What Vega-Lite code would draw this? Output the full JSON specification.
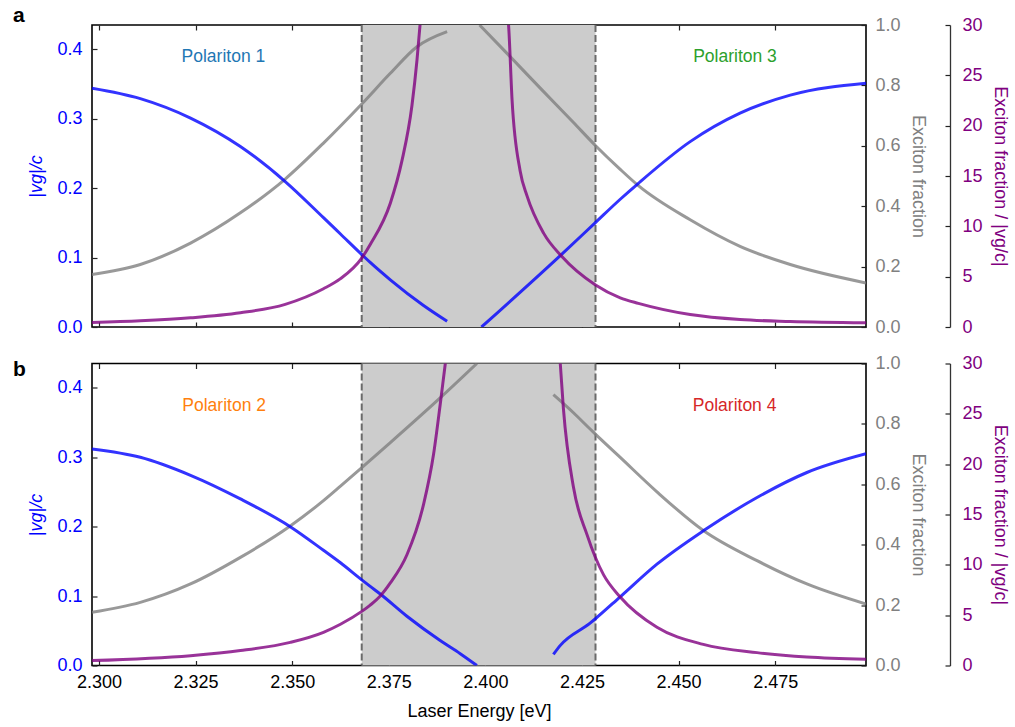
{
  "$schema": "https://vega.github.io/schema/vega-lite/v6.json",
  "padding": {"left": 12, "top": 4, "right": 5, "bottom": 5},
  "bounds": "flush",
  "spacing": 36.5,
  "config": {
    "font": "Liberation Sans",
    "view": {"stroke": "black", "strokeWidth": 1.6},
    "axis": {"labelFont": "Liberation Sans", "titleFont": "Liberation Sans", "labelFontSize": 18, "titleFontSize": 18, "titleFontWeight": "normal", "grid": false, "domain": false, "tickColor": "#222222", "tickWidth": 1.2, "labelFlush": false, "labelOverlap": false, "labelBound": false},
    "title": {"font": "Liberation Sans"}
  },
  "datasets": {
    "curves": [
      {"p":"a","q":"v","b":"L","E":2.2982,"y":0.344},{"p":"a","q":"v","b":"L","E":2.3107,"y":0.329},{"p":"a","q":"v","b":"L","E":2.3237,"y":0.301},{"p":"a","q":"v","b":"L","E":2.3366,"y":0.260},{"p":"a","q":"v","b":"L","E":2.3482,"y":0.2095},{"p":"a","q":"v","b":"L","E":2.3581,"y":0.1575},{"p":"a","q":"v","b":"L","E":2.3625,"y":0.134},{"p":"a","q":"v","b":"L","E":2.3681,"y":0.104},{"p":"a","q":"v","b":"L","E":2.3702,"y":0.093},{"p":"a","q":"v","b":"L","E":2.3754,"y":0.068},{"p":"a","q":"v","b":"L","E":2.3840,"y":0.031},{"p":"a","q":"v","b":"L","E":2.3901,"y":0.0083},
      {"p":"a","q":"v","b":"R","E":2.3990,"y":0.0},{"p":"a","q":"v","b":"R","E":2.4198,"y":0.105},{"p":"a","q":"v","b":"R","E":2.4284,"y":0.150},{"p":"a","q":"v","b":"R","E":2.4349,"y":0.184},{"p":"a","q":"v","b":"R","E":2.4396,"y":0.207},{"p":"a","q":"v","b":"R","E":2.4530,"y":0.267},{"p":"a","q":"v","b":"R","E":2.4659,"y":0.308},{"p":"a","q":"v","b":"R","E":2.4789,"y":0.334},{"p":"a","q":"v","b":"R","E":2.4985,"y":0.351},
      {"p":"a","q":"f","b":"L","E":2.2982,"y":0.174},{"p":"a","q":"f","b":"L","E":2.3107,"y":0.207},{"p":"a","q":"f","b":"L","E":2.3237,"y":0.278},{"p":"a","q":"f","b":"L","E":2.3366,"y":0.378},{"p":"a","q":"f","b":"L","E":2.3482,"y":0.49},{"p":"a","q":"f","b":"L","E":2.3581,"y":0.609},{"p":"a","q":"f","b":"L","E":2.3682,"y":0.741},{"p":"a","q":"f","b":"L","E":2.3754,"y":0.840},{"p":"a","q":"f","b":"L","E":2.3823,"y":0.928},{"p":"a","q":"f","b":"L","E":2.3901,"y":0.978},
      {"p":"a","q":"f","b":"R","E":2.3985,"y":1.0},{"p":"a","q":"f","b":"R","E":2.4056,"y":0.906},{"p":"a","q":"f","b":"R","E":2.4142,"y":0.791},{"p":"a","q":"f","b":"R","E":2.4228,"y":0.677},{"p":"a","q":"f","b":"R","E":2.4284,"y":0.602},{"p":"a","q":"f","b":"R","E":2.4349,"y":0.522},{"p":"a","q":"f","b":"R","E":2.4396,"y":0.468},{"p":"a","q":"f","b":"R","E":2.4530,"y":0.355},{"p":"a","q":"f","b":"R","E":2.4659,"y":0.267},{"p":"a","q":"f","b":"R","E":2.4789,"y":0.207},{"p":"a","q":"f","b":"R","E":2.4985,"y":0.146},
      {"p":"a","q":"r","b":"L","E":2.2982,"y":0.45},{"p":"a","q":"r","b":"L","E":2.3107,"y":0.62},{"p":"a","q":"r","b":"L","E":2.3237,"y":0.91},{"p":"a","q":"r","b":"L","E":2.3366,"y":1.41},{"p":"a","q":"r","b":"L","E":2.3482,"y":2.25},{"p":"a","q":"r","b":"L","E":2.3581,"y":3.8},{"p":"a","q":"r","b":"L","E":2.3625,"y":4.8},{"p":"a","q":"r","b":"L","E":2.3681,"y":6.9},{"p":"a","q":"r","b":"L","E":2.3702,"y":8.2},{"p":"a","q":"r","b":"L","E":2.3754,"y":12.3},{"p":"a","q":"r","b":"L","E":2.3784,"y":16.5},{"p":"a","q":"r","b":"L","E":2.3810,"y":22.0},{"p":"a","q":"r","b":"L","E":2.3823,"y":26.5},{"p":"a","q":"r","b":"L","E":2.3832,"y":30.5},
      {"p":"a","q":"r","b":"R","E":2.4059,"y":30.5},{"p":"a","q":"r","b":"R","E":2.4060,"y":30.0},{"p":"a","q":"r","b":"R","E":2.4069,"y":22.6},{"p":"a","q":"r","b":"R","E":2.4090,"y":15.5},{"p":"a","q":"r","b":"R","E":2.4108,"y":13.0},{"p":"a","q":"r","b":"R","E":2.4151,"y":9.3},{"p":"a","q":"r","b":"R","E":2.4198,"y":7.0},{"p":"a","q":"r","b":"R","E":2.4284,"y":4.2},{"p":"a","q":"r","b":"R","E":2.4349,"y":2.9},{"p":"a","q":"r","b":"R","E":2.4396,"y":2.35},{"p":"a","q":"r","b":"R","E":2.4530,"y":1.24},{"p":"a","q":"r","b":"R","E":2.4659,"y":0.74},{"p":"a","q":"r","b":"R","E":2.4789,"y":0.55},{"p":"a","q":"r","b":"R","E":2.4985,"y":0.42},
      {"p":"b","q":"v","b":"L","E":2.2982,"y":0.312},{"p":"b","q":"v","b":"L","E":2.3107,"y":0.300},{"p":"b","q":"v","b":"L","E":2.3237,"y":0.274},{"p":"b","q":"v","b":"L","E":2.3366,"y":0.240},{"p":"b","q":"v","b":"L","E":2.3495,"y":0.200},{"p":"b","q":"v","b":"L","E":2.3581,"y":0.166},{"p":"b","q":"v","b":"L","E":2.3625,"y":0.148},{"p":"b","q":"v","b":"L","E":2.3681,"y":0.123},{"p":"b","q":"v","b":"L","E":2.3702,"y":0.114},{"p":"b","q":"v","b":"L","E":2.3728,"y":0.103},{"p":"b","q":"v","b":"L","E":2.3797,"y":0.071},{"p":"b","q":"v","b":"L","E":2.3883,"y":0.036},{"p":"b","q":"v","b":"L","E":2.3935,"y":0.017},{"p":"b","q":"v","b":"L","E":2.3978,"y":0.0},
      {"p":"b","q":"v","b":"R","E":2.4176,"y":0.016},{"p":"b","q":"v","b":"R","E":2.4194,"y":0.029},{"p":"b","q":"v","b":"R","E":2.4271,"y":0.061},{"p":"b","q":"v","b":"R","E":2.4284,"y":0.067},{"p":"b","q":"v","b":"R","E":2.4349,"y":0.099},{"p":"b","q":"v","b":"R","E":2.4444,"y":0.146},{"p":"b","q":"v","b":"R","E":2.4564,"y":0.194},{"p":"b","q":"v","b":"R","E":2.4703,"y":0.242},{"p":"b","q":"v","b":"R","E":2.4832,"y":0.278},{"p":"b","q":"v","b":"R","E":2.4985,"y":0.305},
      {"p":"b","q":"f","b":"L","E":2.2982,"y":0.176},{"p":"b","q":"f","b":"L","E":2.3107,"y":0.209},{"p":"b","q":"f","b":"L","E":2.3237,"y":0.270},{"p":"b","q":"f","b":"L","E":2.3366,"y":0.358},{"p":"b","q":"f","b":"L","E":2.3495,"y":0.462},{"p":"b","q":"f","b":"L","E":2.3581,"y":0.546},{"p":"b","q":"f","b":"L","E":2.3625,"y":0.594},{"p":"b","q":"f","b":"L","E":2.3681,"y":0.656},{"p":"b","q":"f","b":"L","E":2.3754,"y":0.738},{"p":"b","q":"f","b":"L","E":2.3883,"y":0.886},{"p":"b","q":"f","b":"L","E":2.3978,"y":1.0},
      {"p":"b","q":"f","b":"R","E":2.4176,"y":0.897},{"p":"b","q":"f","b":"R","E":2.4228,"y":0.837},{"p":"b","q":"f","b":"R","E":2.4271,"y":0.783},{"p":"b","q":"f","b":"R","E":2.4284,"y":0.767},{"p":"b","q":"f","b":"R","E":2.4349,"y":0.689},{"p":"b","q":"f","b":"R","E":2.4444,"y":0.575},{"p":"b","q":"f","b":"R","E":2.4564,"y":0.447},{"p":"b","q":"f","b":"R","E":2.4703,"y":0.347},{"p":"b","q":"f","b":"R","E":2.4832,"y":0.270},{"p":"b","q":"f","b":"R","E":2.4985,"y":0.2035},
      {"p":"b","q":"r","b":"L","E":2.2982,"y":0.49},{"p":"b","q":"r","b":"L","E":2.3237,"y":0.98},{"p":"b","q":"r","b":"L","E":2.3366,"y":1.48},{"p":"b","q":"r","b":"L","E":2.3495,"y":2.3},{"p":"b","q":"r","b":"L","E":2.3581,"y":3.3},{"p":"b","q":"r","b":"L","E":2.3625,"y":4.1},{"p":"b","q":"r","b":"L","E":2.3681,"y":5.4},{"p":"b","q":"r","b":"L","E":2.3702,"y":6.0},{"p":"b","q":"r","b":"L","E":2.3728,"y":6.9},{"p":"b","q":"r","b":"L","E":2.3754,"y":8.2},{"p":"b","q":"r","b":"L","E":2.3797,"y":11.0},{"p":"b","q":"r","b":"L","E":2.3840,"y":16.0},{"p":"b","q":"r","b":"L","E":2.3866,"y":21.0},{"p":"b","q":"r","b":"L","E":2.3883,"y":25.9},{"p":"b","q":"r","b":"L","E":2.3896,"y":29.9},{"p":"b","q":"r","b":"L","E":2.3898,"y":30.5},
      {"p":"b","q":"r","b":"R","E":2.4193,"y":30.5},{"p":"b","q":"r","b":"R","E":2.4194,"y":29.9},{"p":"b","q":"r","b":"R","E":2.4202,"y":25.5},{"p":"b","q":"r","b":"R","E":2.4228,"y":17.7},{"p":"b","q":"r","b":"R","E":2.4263,"y":13.0},{"p":"b","q":"r","b":"R","E":2.4284,"y":10.8},{"p":"b","q":"r","b":"R","E":2.4306,"y":9.0},{"p":"b","q":"r","b":"R","E":2.4349,"y":6.8},{"p":"b","q":"r","b":"R","E":2.4444,"y":3.79},{"p":"b","q":"r","b":"R","E":2.4564,"y":2.1},{"p":"b","q":"r","b":"R","E":2.4703,"y":1.28},{"p":"b","q":"r","b":"R","E":2.4832,"y":0.84},{"p":"b","q":"r","b":"R","E":2.4985,"y":0.62}
    ],
    "labels": [
      {"p":"a","label":"Polariton 1","E":2.3322,"y":0.895},
      {"p":"a","label":"Polariton 3","E":2.4646,"y":0.895},
      {"p":"b","label":"Polariton 2","E":2.3324,"y":0.86},
      {"p":"b","label":"Polariton 4","E":2.4645,"y":0.86}
    ],
    "band": [{"E1":2.368,"E2":2.4285}],
    "edges": [{"E":2.368},{"E":2.4285}]
  },
  "vconcat": [
    {
      "width": 774, "height": 302,
      "title": {"text": "a", "anchor": "start", "frame": "group", "dx": -79, "fontSize": 21, "fontWeight": "bold", "baseline": "alphabetic", "offset": -27, "color": "black"},
      "resolve": {"scale": {"y": "independent"}, "axis": {"x": "independent", "y": "independent"}},
      "layer": [
        {"data": {"name": "band"}, "mark": {"type": "rect", "color": "#cccccc"},
         "encoding": {"x": {"field": "E1", "type": "quantitative", "scale": {"domain": [2.2982, 2.4985], "nice": false, "zero": false}, "axis": null}, "x2": {"field": "E2"}}},
        {"data": {"name": "edges"}, "mark": {"type": "rule", "color": "#6a6a6a", "strokeDash": [7, 3], "strokeWidth": 2},
         "encoding": {"x": {"field": "E", "type": "quantitative", "scale": {"domain": [2.2982, 2.4985], "nice": false, "zero": false}, "axis": null}}},
        {"data": {"name": "curves"}, "transform": [{"filter": "datum.p === 'a' && datum.q === 'f'"}],
         "mark": {"type": "line", "color": "#808080", "opacity": 0.8, "strokeWidth": 3, "interpolate": "monotone", "clip": true},
         "encoding": {
           "x": {"field": "E", "type": "quantitative", "scale": {"domain": [2.2982, 2.4985], "nice": false, "zero": false}, "axis": {"orient": "top", "values": [2.3, 2.325, 2.35, 2.375, 2.4, 2.425, 2.45, 2.475], "labels": false, "tickSize": -5, "title": null}},
           "y": {"field": "y", "type": "quantitative", "scale": {"domain": [0, 1], "nice": false}, "axis": {"orient": "right", "values": [0, 0.2, 0.4, 0.6, 0.8, 1.0], "format": ".1f", "labelColor": "#808080", "title": "Exciton fraction", "titleColor": "#808080", "tickSize": -5, "labelPadding": 14, "titlePadding": 8}},
           "detail": {"field": "b"}}},
        {"data": {"name": "curves"}, "transform": [{"filter": "datum.p === 'a' && datum.q === 'v'"}],
         "mark": {"type": "line", "color": "#0000ff", "opacity": 0.8, "strokeWidth": 3, "interpolate": "monotone", "clip": true},
         "encoding": {
           "x": {"field": "E", "type": "quantitative", "scale": {"domain": [2.2982, 2.4985], "nice": false, "zero": false}, "axis": {"orient": "bottom", "values": [2.3, 2.325, 2.35, 2.375, 2.4, 2.425, 2.45, 2.475], "labels": false, "tickSize": -5, "title": null}},
           "y": {"field": "y", "type": "quantitative", "scale": {"domain": [0, 0.435], "nice": false}, "axis": {"orient": "left", "values": [0, 0.1, 0.2, 0.3, 0.4], "format": ".1f", "labelColor": "#0000ff", "title": "|vg|/c", "titleColor": "#0000ff", "titleFontStyle": "italic", "tickSize": -5, "labelPadding": 15, "titlePadding": 11}},
           "detail": {"field": "b"}}},
        {"data": {"name": "curves"}, "transform": [{"filter": "datum.p === 'a' && datum.q === 'r'"}],
         "mark": {"type": "line", "color": "#800080", "opacity": 0.8, "strokeWidth": 3, "interpolate": "monotone", "clip": true},
         "encoding": {
           "x": {"field": "E", "type": "quantitative", "scale": {"domain": [2.2982, 2.4985], "nice": false, "zero": false}, "axis": null},
           "y": {"field": "y", "type": "quantitative", "scale": {"domain": [0, 30], "nice": false}, "axis": {"orient": "right", "offset": 84, "values": [0, 5, 10, 15, 20, 25, 30], "labelColor": "#800080", "title": "Exciton fraction / |vg/c|", "titleColor": "#800080", "domain": true, "domainColor": "#333333", "domainWidth": 1.3, "tickSize": -5, "labelPadding": 17, "titlePadding": 8}},
           "detail": {"field": "b"}}},
        {"data": {"name": "labels"}, "transform": [{"filter": "datum.p === 'a'"}],
         "mark": {"type": "text", "fontSize": 17.5, "font": "Liberation Sans"},
         "encoding": {
           "x": {"field": "E", "type": "quantitative", "scale": {"domain": [2.2982, 2.4985], "nice": false, "zero": false}, "axis": null},
           "y": {"field": "y", "type": "quantitative", "scale": {"domain": [0, 1], "nice": false}, "axis": null},
           "text": {"field": "label"},
           "color": {"field": "label", "type": "nominal", "scale": {"domain": ["Polariton 1", "Polariton 2", "Polariton 3", "Polariton 4"], "range": ["#1f77b4", "#ff7f0e", "#2ca02c", "#d62728"]}, "legend": null}}}
      ]
    },
    {
      "width": 774, "height": 302,
      "title": {"text": "b", "anchor": "start", "frame": "group", "dx": -79, "fontSize": 21, "fontWeight": "bold", "baseline": "alphabetic", "offset": -42, "color": "black"},
      "resolve": {"scale": {"y": "independent"}, "axis": {"x": "independent", "y": "independent"}},
      "layer": [
        {"data": {"name": "band"}, "mark": {"type": "rect", "color": "#cccccc"},
         "encoding": {"x": {"field": "E1", "type": "quantitative", "scale": {"domain": [2.2982, 2.4985], "nice": false, "zero": false}, "axis": null}, "x2": {"field": "E2"}}},
        {"data": {"name": "edges"}, "mark": {"type": "rule", "color": "#6a6a6a", "strokeDash": [7, 3], "strokeWidth": 2},
         "encoding": {"x": {"field": "E", "type": "quantitative", "scale": {"domain": [2.2982, 2.4985], "nice": false, "zero": false}, "axis": null}}},
        {"data": {"name": "curves"}, "transform": [{"filter": "datum.p === 'b' && datum.q === 'f'"}],
         "mark": {"type": "line", "color": "#808080", "opacity": 0.8, "strokeWidth": 3, "interpolate": "monotone", "clip": true},
         "encoding": {
           "x": {"field": "E", "type": "quantitative", "scale": {"domain": [2.2982, 2.4985], "nice": false, "zero": false}, "axis": {"orient": "top", "values": [2.3, 2.325, 2.35, 2.375, 2.4, 2.425, 2.45, 2.475], "labels": false, "tickSize": -5, "title": null}},
           "y": {"field": "y", "type": "quantitative", "scale": {"domain": [0, 1], "nice": false}, "axis": {"orient": "right", "values": [0, 0.2, 0.4, 0.6, 0.8, 1.0], "format": ".1f", "labelColor": "#808080", "title": "Exciton fraction", "titleColor": "#808080", "tickSize": -5, "labelPadding": 14, "titlePadding": 8}},
           "detail": {"field": "b"}}},
        {"data": {"name": "curves"}, "transform": [{"filter": "datum.p === 'b' && datum.q === 'v'"}],
         "mark": {"type": "line", "color": "#0000ff", "opacity": 0.8, "strokeWidth": 3, "interpolate": "monotone", "clip": true},
         "encoding": {
           "x": {"field": "E", "type": "quantitative", "scale": {"domain": [2.2982, 2.4985], "nice": false, "zero": false}, "axis": {"orient": "bottom", "values": [2.3, 2.325, 2.35, 2.375, 2.4, 2.425, 2.45, 2.475], "format": ".3f", "labelColor": "black", "tickSize": -5, "labelPadding": 13, "title": "Laser Energy [eV]", "titleColor": "black", "titlePadding": 11}},
           "y": {"field": "y", "type": "quantitative", "scale": {"domain": [0, 0.435], "nice": false}, "axis": {"orient": "left", "values": [0, 0.1, 0.2, 0.3, 0.4], "format": ".1f", "labelColor": "#0000ff", "title": "|vg|/c", "titleColor": "#0000ff", "titleFontStyle": "italic", "tickSize": -5, "labelPadding": 15, "titlePadding": 11}},
           "detail": {"field": "b"}}},
        {"data": {"name": "curves"}, "transform": [{"filter": "datum.p === 'b' && datum.q === 'r'"}],
         "mark": {"type": "line", "color": "#800080", "opacity": 0.8, "strokeWidth": 3, "interpolate": "monotone", "clip": true},
         "encoding": {
           "x": {"field": "E", "type": "quantitative", "scale": {"domain": [2.2982, 2.4985], "nice": false, "zero": false}, "axis": null},
           "y": {"field": "y", "type": "quantitative", "scale": {"domain": [0, 30], "nice": false}, "axis": {"orient": "right", "offset": 84, "values": [0, 5, 10, 15, 20, 25, 30], "labelColor": "#800080", "title": "Exciton fraction / |vg/c|", "titleColor": "#800080", "domain": true, "domainColor": "#333333", "domainWidth": 1.3, "tickSize": -5, "labelPadding": 17, "titlePadding": 8}},
           "detail": {"field": "b"}}},
        {"data": {"name": "labels"}, "transform": [{"filter": "datum.p === 'b'"}],
         "mark": {"type": "text", "fontSize": 17.5, "font": "Liberation Sans"},
         "encoding": {
           "x": {"field": "E", "type": "quantitative", "scale": {"domain": [2.2982, 2.4985], "nice": false, "zero": false}, "axis": null},
           "y": {"field": "y", "type": "quantitative", "scale": {"domain": [0, 1], "nice": false}, "axis": null},
           "text": {"field": "label"},
           "color": {"field": "label", "type": "nominal", "scale": {"domain": ["Polariton 1", "Polariton 2", "Polariton 3", "Polariton 4"], "range": ["#1f77b4", "#ff7f0e", "#2ca02c", "#d62728"]}, "legend": null}}}
      ]
    }
  ]
}
